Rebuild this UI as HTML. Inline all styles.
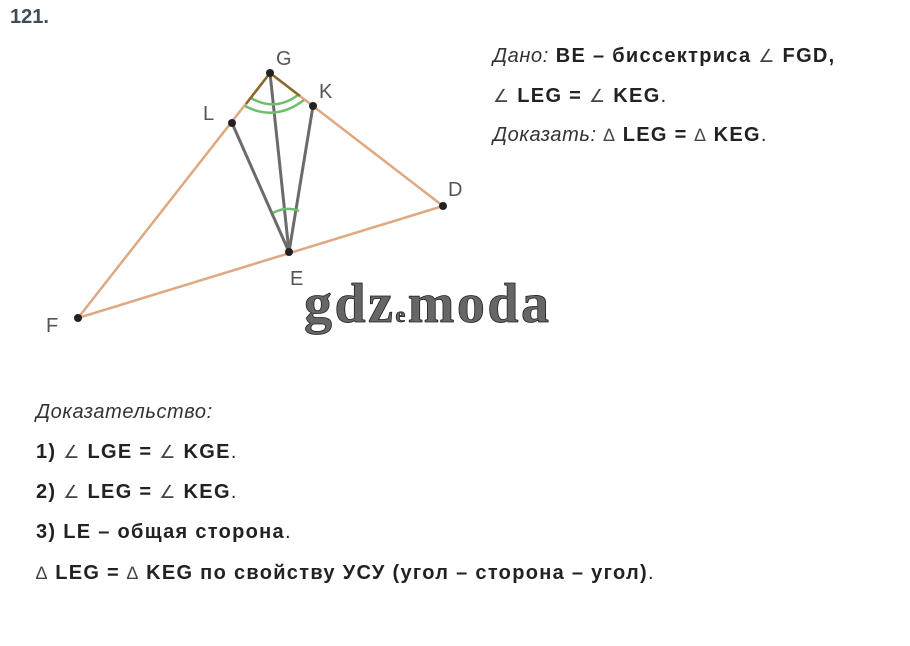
<!DOCTYPE html>
<html><head><meta charset="utf-8"><style>
body{margin:0;width:910px;height:646px;background:#fff;position:relative;overflow:hidden;font-family:"Liberation Sans",sans-serif;color:#222}
.t{position:absolute;font-size:20px;white-space:nowrap;letter-spacing:1.3px}
b{font-weight:bold}
i{font-style:italic;font-weight:normal;color:#333;letter-spacing:0.6px}
.a{font-weight:normal;color:#444;font-size:18px}
</style></head><body>
<div class="t" style="left:10px;top:6px;color:#3e4d5c;font-weight:bold;font-size:20px;letter-spacing:0">121.</div>
<svg width="910" height="646" style="position:absolute;left:0;top:0">
<g stroke="#e0a880" stroke-width="2.5" fill="none">
<line x1="78" y1="318" x2="270" y2="73"/>
<line x1="270" y1="73" x2="443" y2="206"/>
<line x1="78" y1="318" x2="443" y2="206"/>
</g>
<g stroke="#6b6b6b" stroke-width="3" fill="none">
<line x1="232" y1="123" x2="289" y2="252"/>
<line x1="313" y1="106" x2="289" y2="252"/>
<line x1="270" y1="73" x2="289" y2="252"/>
</g>
<g stroke="#6dbf6d" stroke-width="2.5" fill="none">
<path d="M251 98 Q275 112 298 95"/>
<path d="M245 106 Q275 122 304 100"/>
<path d="M273 213 Q286 206 299 211"/>
</g>
<g stroke="#8a6a2a" stroke-width="2.5"><line x1="270" y1="73" x2="246" y2="104"/><line x1="270" y1="73" x2="300" y2="96"/></g>
<g fill="#222">
<circle cx="270" cy="73" r="4"/><circle cx="232" cy="123" r="4"/><circle cx="313" cy="106" r="4"/>
<circle cx="289" cy="252" r="4"/><circle cx="443" cy="206" r="4"/><circle cx="78" cy="318" r="4"/>
</g>
<g font-family="Liberation Sans" font-size="20" fill="#555">
<text x="276" y="65">G</text><text x="203" y="120">L</text><text x="319" y="98">K</text>
<text x="290" y="285">E</text><text x="448" y="196">D</text><text x="46" y="332">F</text>
</g>
<text x="304" y="322" font-family="Liberation Serif" font-weight="bold" font-size="56" letter-spacing="2.5" fill="#666" stroke="#222" stroke-width="0.8">gdz<tspan font-size="22">e</tspan>moda</text>
</svg>
<div class="t" style="left:493px;top:45px"><i>Дано:</i> <b>BE – биссектриса <span class="a">∠</span> FGD,</b></div>
<div class="t" style="left:493px;top:85px"><b><span class="a">∠</span> LEG = <span class="a">∠</span> KEG</b>.</div>
<div class="t" style="left:493px;top:124px"><i>Доказать:</i> <span class="a">∆</span> <b>LEG = </b><span class="a">∆</span><b> KEG</b>.</div>
<div class="t" style="left:36px;top:401px"><i>Доказательство:</i></div>
<div class="t" style="left:36px;top:441px"><b>1) <span class="a">∠</span> LGE = <span class="a">∠</span> KGE</b>.</div>
<div class="t" style="left:36px;top:481px"><b>2) <span class="a">∠</span> LEG = <span class="a">∠</span> KEG</b>.</div>
<div class="t" style="left:36px;top:521px"><b>3) LE – общая сторона</b>.</div>
<div class="t" style="left:36px;top:562px"><span class="a">∆</span> <b>LEG = </b><span class="a">∆</span><b> KEG по свойству УСУ (угол – сторона – угол)</b>.</div>
</body></html>
